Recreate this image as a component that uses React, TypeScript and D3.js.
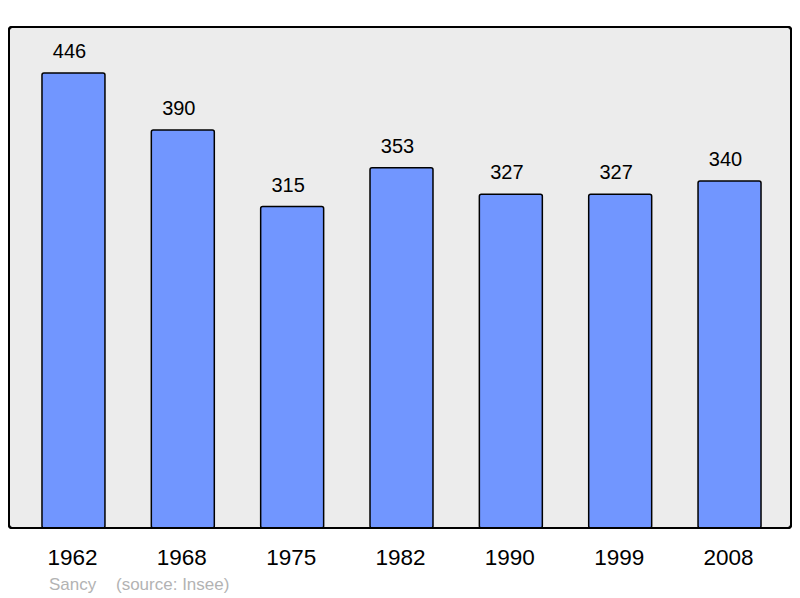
import React from 'react';
import * as d3 from 'd3';

const years = ['1962', '1968', '1975', '1982', '1990', '1999', '2008'];
const population = [446, 390, 315, 353, 327, 327, 340];
const townName = 'Sancy';
const sourceLabel = '(source: Insee)';

export default function App() {
  const svgWidth = 800;
  const svgHeight = 598;
  const panel = { left: 9, top: 27, right: 791, bottom: 528 };

  // x band scale for the census years
  const xScale = d3.scaleBand<string>()
    .domain(years)
    .range([18.8, 784.2])
    .paddingInner(0.424)
    .paddingOuter(0.212);

  // y scale, 0 at the panel bottom
  const yScale = d3.scaleLinear()
    .domain([0, 491])
    .range([panel.bottom, panel.top]);

  const font = '"Liberation Sans", Arial, sans-serif';

  return (
    <svg width={svgWidth} height={svgHeight}
      style={{ position: 'absolute', left: 0, top: 0 }}>
      <rect x={panel.left} y={panel.top}
        width={panel.right - panel.left} height={panel.bottom - panel.top}
        rx={3} fill="#ececec" stroke="#000" strokeWidth={2} />
      {population.map((v, i) => {
        const x = xScale(years[i]) as number;
        const y = yScale(v);
        const cx = x + xScale.bandwidth() / 2;
        return (
          <g key={years[i]}>
            <rect x={x} y={y} width={xScale.bandwidth()} height={panel.bottom - y}
              rx={2} fill="#7196ff" stroke="#000" strokeWidth={1.5} />
            <text x={cx - 4} y={y - 15} textAnchor="middle"
              fontFamily={font} fontSize={20} fill="#000">{v}</text>
            <text x={cx - 1} y={565} textAnchor="middle"
              fontFamily={font} fontSize={22.5} fill="#000">{years[i]}</text>
          </g>
        );
      })}
      <rect x={panel.left} y={panel.top}
        width={panel.right - panel.left} height={panel.bottom - panel.top}
        rx={3} fill="none" stroke="#000" strokeWidth={2} />
      <text x={49} y={590} fontFamily={font} fontSize={17} fill="#b3b3b3">{townName}</text>
      <text x={116} y={590} fontFamily={font} fontSize={17} fill="#b3b3b3">{sourceLabel}</text>
    </svg>
  );
}
